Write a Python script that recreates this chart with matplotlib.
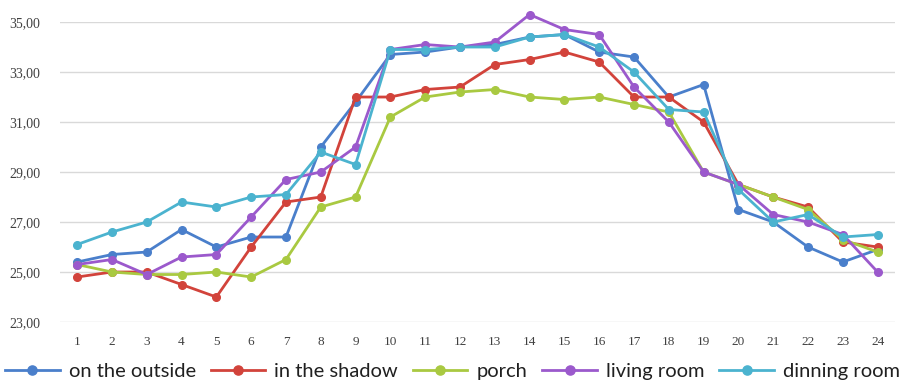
import matplotlib
matplotlib.use("Agg")
import matplotlib.pyplot as plt
from matplotlib.ticker import FuncFormatter

hours = list(range(1, 25))
on_the_outside = [25.4, 25.7, 25.8, 26.7, 26.0, 26.4, 26.4, 30.0, 31.8, 33.7, 33.8, 34.0,
                  34.1, 34.4, 34.5, 33.8, 33.6, 32.0, 32.5, 27.5, 27.0, 26.0, 25.4, 25.9]
in_the_shadow = [24.8, 25.0, 25.0, 24.5, 24.0, 26.0, 27.8, 28.0, 32.0, 32.0, 32.3, 32.4,
                 33.3, 33.5, 33.8, 33.4, 32.0, 32.0, 31.0, 28.5, 28.0, 27.6, 26.2, 26.0]
porch = [25.3, 25.0, 24.9, 24.9, 25.0, 24.8, 25.5, 27.6, 28.0, 31.2, 32.0, 32.2,
         32.3, 32.0, 31.9, 32.0, 31.7, 31.4, 29.0, 28.5, 28.0, 27.5, 26.3, 25.8]
living_room = [25.3, 25.5, 24.9, 25.6, 25.7, 27.2, 28.7, 29.0, 30.0, 33.9, 34.1, 34.0,
               34.2, 35.3, 34.7, 34.5, 32.4, 31.0, 29.0, 28.5, 27.3, 27.0, 26.5, 25.0]
dinning_room = [26.1, 26.6, 27.0, 27.8, 27.6, 28.0, 28.1, 29.8, 29.3, 33.9, 33.9, 34.0,
                34.0, 34.4, 34.5, 34.0, 33.0, 31.5, 31.4, 28.3, 27.0, 27.3, 26.4, 26.5]

series = [
    ("on the outside", on_the_outside, "#4A7FCB"),
    ("in the shadow", in_the_shadow, "#D2433B"),
    ("porch", porch, "#A9C941"),
    ("living room", living_room, "#9B59CC"),
    ("dinning room", dinning_room, "#4BB3CF"),
]
y_ticks = [23, 25, 27, 29, 31, 33, 35]

fig = plt.figure(figsize=(9.05, 3.85), dpi=100)
ax = fig.add_axes([0.066, 0.1636, 0.923, 0.7792])

for name, vals, col in series:
    ax.plot(hours, vals, color=col, lw=2.0, marker="o", ms=5.5, label=name, clip_on=False)

ax.set_xlim(0.5, 24.5)
ax.set_ylim(23, 35)
ax.set_yticks(y_ticks)
ax.yaxis.set_major_formatter(FuncFormatter(lambda v, p: f"{v:.2f}".replace(".", ",")))
ax.set_xticks(hours)
ax.grid(axis="y", color="#D9D9D9", lw=1.0)
ax.set_axisbelow(True)
for s in ax.spines.values():
    s.set_visible(False)
ax.tick_params(axis="both", length=0)
ax.tick_params(axis="y", pad=14, labelsize=10, labelcolor="#404040")
ax.tick_params(axis="x", pad=10, labelsize=9.5, labelcolor="#404040")
for lab in ax.get_yticklabels() + ax.get_xticklabels():
    lab.set_family("Liberation Serif")

leg = fig.legend(loc="center", bbox_to_anchor=(0.5, 0.034), ncol=5, frameon=False,
                 handlelength=2.7, columnspacing=0.75, handletextpad=0.45,
                 markerscale=1.2, prop={"family": "Lato", "size": 14.5})
plt.setp(leg.get_texts(), color="#202020")

fig.savefig("out.png", dpi=100)
